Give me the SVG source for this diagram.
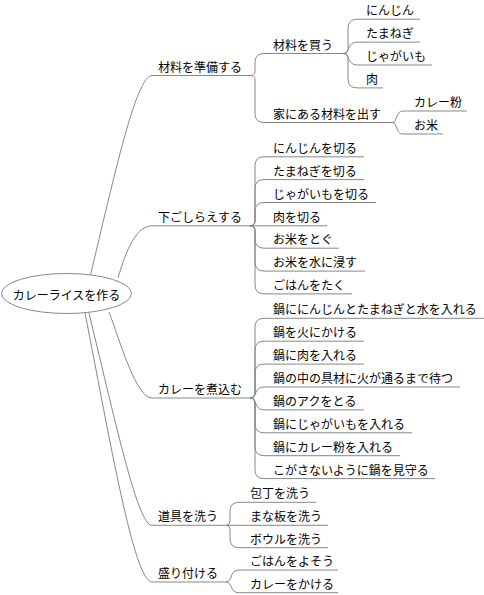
<svg xmlns="http://www.w3.org/2000/svg" width="484" height="595" viewBox="0 0 484 595">
<style>
.c{fill:none;stroke:#888;stroke-width:1}
text{font-family:"Noto Sans CJK JP","Noto Sans",sans-serif;font-size:12px;fill:#000}
</style>
<rect width="484" height="595" fill="#fff"/>
<g id="connectors">
<path class="c" d="M90,277 C114,177 136,75.5 152,75.5 H250"/>
<path class="c" d="M118,278 C124,258 134,225.8 152,225.8 H250"/>
<path class="c" d="M109,312 C120,341 136,398 152,398 H250"/>
<path class="c" d="M89,313 C118,433 138,525.3 152,525.3 H226"/>
<path class="c" d="M85,313 C110,440 134,582 152,582 H226"/>
<path class="c" d="M250,75.5 Q255,75.5 255,71.5 V62.5 Q255,53.5 264,53.5 H343"/>
<path class="c" d="M250,75.5 Q255,75.5 255,79.5 V113.5 Q255,122.5 264,122.5 H392"/>
<path class="c" d="M343,53.5 Q348,53.5 348,49.5 V28.2 Q348,19.2 357,19.2 H420"/>
<path class="c" d="M343,53.5 C350,53.5 347,42.1 357,42.1 H420"/>
<path class="c" d="M343,53.5 C350,53.5 347,65 357,65 H432"/>
<path class="c" d="M343,53.5 Q348,53.5 348,57.5 V78.9 Q348,87.9 357,87.9 H383"/>
<path class="c" d="M392,122.5 C398,122.5 395,111 403,111 H467"/>
<path class="c" d="M392,122.5 C398,122.5 395,134 403,134 H443"/>
<path class="c" d="M250,225.8 Q255,225.8 255,220.8 V165.8 Q255,156.8 264,156.8 H364"/>
<path class="c" d="M250,225.8 Q255,225.8 255,220.8 V188.6 Q255,179.6 264,179.6 H364"/>
<path class="c" d="M250,225.8 Q255,225.8 255,220.8 V211.5 Q255,202.5 264,202.5 H376"/>
<path class="c" d="M250,225.8 H327"/>
<path class="c" d="M250,225.8 Q255,225.8 255,230.8 V239.2 Q255,248.2 264,248.2 H339"/>
<path class="c" d="M250,225.8 Q255,225.8 255,230.8 V262.1 Q255,271.1 264,271.1 H365"/>
<path class="c" d="M250,225.8 Q255,225.8 255,230.8 V284.9 Q255,293.9 264,293.9 H352"/>
<path class="c" d="M250,398 Q255,398 255,393 V327.3 Q255,318.3 264,318.3 H485"/>
<path class="c" d="M250,398 Q255,398 255,393 V350.2 Q255,341.2 264,341.2 H364"/>
<path class="c" d="M250,398 Q255,398 255,393 V373.1 Q255,364.1 264,364.1 H364"/>
<path class="c" d="M250,398 C257,398 254,387 264,387 H460"/>
<path class="c" d="M250,398 C257,398 254,409.9 264,409.9 H364"/>
<path class="c" d="M250,398 Q255,398 255,403 V423.8 Q255,432.8 264,432.8 H412"/>
<path class="c" d="M250,398 Q255,398 255,403 V446.7 Q255,455.7 264,455.7 H400"/>
<path class="c" d="M250,398 Q255,398 255,403 V469.6 Q255,478.6 264,478.6 H435"/>
<path class="c" d="M226,525.3 Q230,525.3 230,521.3 V511.3 Q230,502.3 239,502.3 H316"/>
<path class="c" d="M226,525.3 H328"/>
<path class="c" d="M226,525.3 Q230,525.3 230,529.3 V538.7 Q230,547.7 239,547.7 H328"/>
<path class="c" d="M226,582 C233,582 229,570 239,570 H338"/>
<path class="c" d="M226,582 C233,582 229,592.7 239,592.7 H338"/>
</g>
<g id="root">
<ellipse cx="66.5" cy="293.5" rx="65" ry="20" fill="#fff" stroke="#888"/>
<text x="66.5" y="300" text-anchor="middle">カレーライスを作る</text>
</g>
<g id="b1"><text x="158" y="71.5">材料を準備する</text></g>
<g id="b2"><text x="158" y="221.8">下ごしらえする</text></g>
<g id="b3"><text x="158" y="394">カレーを煮込む</text></g>
<g id="b4"><text x="158" y="521.3">道具を洗う</text></g>
<g id="b5"><text x="158" y="578">盛り付ける</text></g>
<g id="b1-1"><text x="273" y="49.5">材料を買う</text></g>
<g id="b1-2"><text x="273" y="118.5">家にある材料を出す</text></g>
<g id="b1-1-1"><text x="366" y="15.2">にんじん</text></g>
<g id="b1-1-2"><text x="366" y="38.1">たまねぎ</text></g>
<g id="b1-1-3"><text x="366" y="61">じゃがいも</text></g>
<g id="b1-1-4"><text x="366" y="83.9">肉</text></g>
<g id="b1-2-1"><text x="414" y="107">カレー粉</text></g>
<g id="b1-2-2"><text x="414" y="130">お米</text></g>
<g id="b2-1"><text x="273" y="152.8">にんじんを切る</text></g>
<g id="b2-2"><text x="273" y="175.6">たまねぎを切る</text></g>
<g id="b2-3"><text x="273" y="198.5">じゃがいもを切る</text></g>
<g id="b2-4"><text x="273" y="221.8">肉を切る</text></g>
<g id="b2-5"><text x="273" y="244.2">お米をとぐ</text></g>
<g id="b2-6"><text x="273" y="267.1">お米を水に浸す</text></g>
<g id="b2-7"><text x="273" y="289.9">ごはんをたく</text></g>
<g id="b3-1"><text x="273" y="314.3">鍋ににんじんとたまねぎと水を入れる</text></g>
<g id="b3-2"><text x="273" y="337.2">鍋を火にかける</text></g>
<g id="b3-3"><text x="273" y="360.1">鍋に肉を入れる</text></g>
<g id="b3-4"><text x="273" y="383">鍋の中の具材に火が通るまで待つ</text></g>
<g id="b3-5"><text x="273" y="405.9">鍋のアクをとる</text></g>
<g id="b3-6"><text x="273" y="428.8">鍋にじゃがいもを入れる</text></g>
<g id="b3-7"><text x="273" y="451.7">鍋にカレー粉を入れる</text></g>
<g id="b3-8"><text x="273" y="474.6">こがさないように鍋を見守る</text></g>
<g id="b4-1"><text x="250" y="498.3">包丁を洗う</text></g>
<g id="b4-2"><text x="250" y="521.3">まな板を洗う</text></g>
<g id="b4-3"><text x="250" y="543.7">ボウルを洗う</text></g>
<g id="b5-1"><text x="250" y="566">ごはんをよそう</text></g>
<g id="b5-2"><text x="250" y="588.7">カレーをかける</text></g>
</svg>
